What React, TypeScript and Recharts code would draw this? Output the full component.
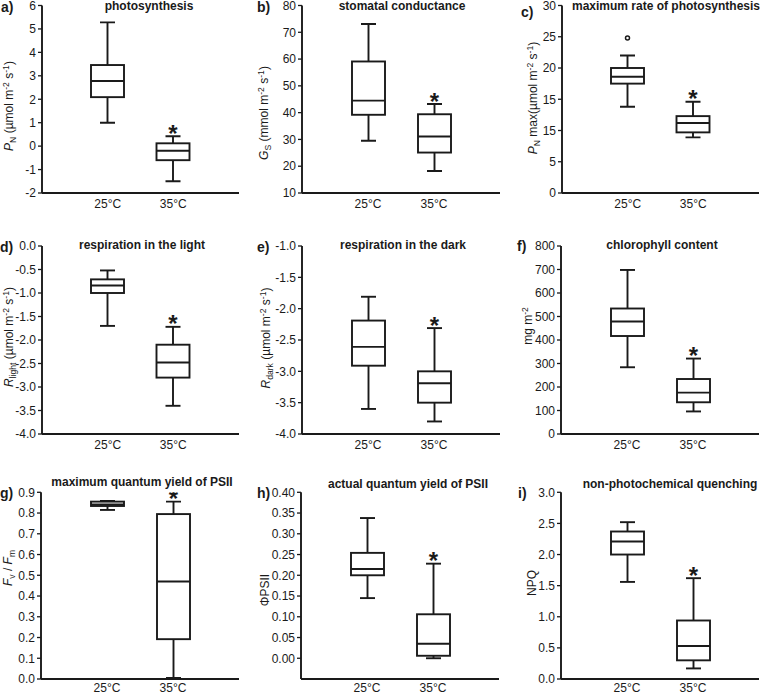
import React from "react";
import { ComposedChart, Bar, XAxis, YAxis } from "recharts";

// ---------- data ----------
const categories = ["25°C", "35°C"];
const significant = [false, true];

// each row: [min, q1, median, q3, max]
const pnStats = [[1.0, 2.09, 2.78, 3.46, 5.28], [-1.5, -0.6, -0.2, 0.12, 0.42]];
const gsStats = [[29.5, 39.2, 44.5, 59.1, 73.1], [18.2, 25.1, 31.1, 39.4, 43.2]];
const pnMaxStats = [[13.8, 17.5, 18.6, 20.0, 22.0], [8.9, 9.7, 11.2, 12.3, 14.6]];
const pnMaxOutliers = [[24.8], []];
const rLightStats = [[-1.7, -1.0, -0.84, -0.71, -0.52], [-3.4, -2.8, -2.48, -2.1, -1.72]];
const rDarkStats = [[-3.6, -2.91, -2.61, -2.19, -1.81], [-3.8, -3.5, -3.19, -3.0, -2.31]];
const chlStats = [[284, 417, 479, 534, 698], [96, 135, 176, 234, 321]];
const fvfmStats = [[0.815, 0.834, 0.842, 0.855, 0.858], [0.005, 0.192, 0.47, 0.795, 0.855]];
const phiStats = [[0.145, 0.2, 0.215, 0.254, 0.338], [0.0, 0.006, 0.035, 0.106, 0.228]];
const npqStats = [[1.56, 2.0, 2.21, 2.37, 2.52], [0.17, 0.3, 0.53, 0.94, 1.62]];

const pnTicks = [-2, -1, 0, 1, 2, 3, 4, 5, 6];
const gsTicks = [10, 20, 30, 40, 50, 60, 70, 80];
const pnMaxTicks = [0, 5, 10, 15, 20, 25, 30];
const pnMaxTickLabels = ["0", "5", "15", "15", "20", "25", "30"];
const rLightTicks = [-4, -3.5, -3, -2.5, -2, -1.5, -1, -0.5, 0];
const rDarkTicks = [-4, -3.5, -3, -2.5, -2, -1.5, -1];
const chlTicks = [0, 100, 200, 300, 400, 500, 600, 700, 800];
const fvfmTicks = [0, 0.1, 0.2, 0.3, 0.4, 0.5, 0.6, 0.7, 0.8, 0.9];
const phiTicks = [0, 0.05, 0.1, 0.15, 0.2, 0.25, 0.3, 0.35, 0.4];
const npqTicks = [0, 0.5, 1, 1.5, 2, 2.5, 3];

// ---------- style ----------
const FONT = "'Liberation Sans', Arial, Helvetica, sans-serif";
const INK = "#1a1a1a";
const LW = 1.9;
const XH = 26;

type Part = [string, "n" | "i" | "sub" | "sup"];

function makeRows(stats: number[][], outliers?: number[][]) {
  return categories.map((cat, i) => ({
    cat,
    min: stats[i][0],
    q1: stats[i][1],
    med: stats[i][2],
    q3: stats[i][3],
    max: stats[i][4],
    outliers: outliers ? outliers[i] : [],
    sig: significant[i],
  }));
}

const BoxShape = (props: any) => {
  const { x, y, width, height, payload } = props;
  if (!payload || !isFinite(y) || !isFinite(height)) return null;
  const { min, q1, med, q3, max, outliers, sig } = payload;
  const span = max - min;
  const pos = (v: number) => y + (height * (max - v)) / span;
  const cx = x + width / 2;
  const cap = 7.5;
  const yMax = pos(max);
  const yMin = pos(min);
  const yQ3 = pos(q3);
  const yQ1 = pos(q1);
  const yMed = pos(med);
  return (
    <g>
      <line x1={cx} x2={cx} y1={yMax} y2={yMin} stroke={INK} strokeWidth={LW} />
      <line x1={cx - cap} x2={cx + cap} y1={yMax} y2={yMax} stroke={INK} strokeWidth={LW} />
      <line x1={cx - cap} x2={cx + cap} y1={yMin} y2={yMin} stroke={INK} strokeWidth={LW} />
      <rect x={x} y={yQ3} width={width} height={yQ1 - yQ3} fill="#fff" stroke={INK} strokeWidth={LW} />
      <line x1={x} x2={x + width} y1={yMed} y2={yMed} stroke={INK} strokeWidth={LW} />
      {(outliers || []).map((o: number, i: number) => (
        <circle key={i} cx={cx} cy={pos(o)} r={2} fill="#fff" stroke={INK} strokeWidth={1.5} />
      ))}
      {sig && (
        <text
          x={cx}
          y={yMax + 5.5}
          textAnchor="middle"
          fontFamily={FONT}
          fontWeight="bold"
          fontSize={24}
          fill={INK}
        >
          *
        </text>
      )}
    </g>
  );
};

type PanelCfg = {
  left: number;
  top: number;
  width: number;
  height: number;
  mTop: number;
  mRight: number;
  yWidth: number;
  xMargin: number;
  rows: any[];
  ticks: number[];
  domain: [number, number];
  fmt: (v: number, i: number) => string;
};

const fmtInt = (v: number) => String(v);
const fmt1 = (v: number) => v.toFixed(1);
const fmt2 = (v: number) => v.toFixed(2);

const H1 = 193 + XH;
const H2 = 434 - 230 + XH;
const H3 = 679 - 460 + XH;

const panels: PanelCfg[] = [
  { left: 0, top: 0, width: 260, height: H1, mTop: 5.5, mRight: 21, yWidth: 42, xMargin: 2, rows: makeRows(pnStats), ticks: pnTicks, domain: [-2, 6], fmt: fmtInt },
  { left: 250, top: 0, width: 260, height: H1, mTop: 5.5, mRight: 10, yWidth: 52, xMargin: 2, rows: makeRows(gsStats), ticks: gsTicks, domain: [10, 80], fmt: fmtInt },
  { left: 500, top: 0, width: 260, height: H1, mTop: 5.5, mRight: 1, yWidth: 62, xMargin: 2, rows: makeRows(pnMaxStats, pnMaxOutliers), ticks: pnMaxTicks, domain: [0, 30], fmt: (_v, i) => pnMaxTickLabels[i] },
  { left: 0, top: 230, width: 260, height: H2, mTop: 16, mRight: 21, yWidth: 42, xMargin: 2, rows: makeRows(rLightStats), ticks: rLightTicks, domain: [-4, 0], fmt: fmt1 },
  { left: 250, top: 230, width: 260, height: H2, mTop: 16, mRight: 10, yWidth: 52, xMargin: 2, rows: makeRows(rDarkStats), ticks: rDarkTicks, domain: [-4, -1], fmt: fmt1 },
  { left: 500, top: 230, width: 260, height: H2, mTop: 16, mRight: 1, yWidth: 61, xMargin: 2, rows: makeRows(chlStats), ticks: chlTicks, domain: [0, 800], fmt: fmtInt },
  { left: 0, top: 460, width: 260, height: H3, mTop: 32.3, mRight: 21, yWidth: 41, xMargin: 0, rows: makeRows(fvfmStats), ticks: fvfmTicks, domain: [0, 0.9], fmt: fmt1 },
  { left: 250, top: 460, width: 260, height: H3, mTop: 32.3, mRight: 11, yWidth: 51, xMargin: 0, rows: makeRows(phiStats), ticks: phiTicks, domain: [-0.05, 0.4], fmt: fmt2 },
  { left: 500, top: 460, width: 260, height: H3, mTop: 32.3, mRight: 1, yWidth: 61, xMargin: 0, rows: makeRows(npqStats), ticks: npqTicks, domain: [0, 3], fmt: fmt1 },
];

const letters: [string, number, number][] = [
  ["a)", 1, 12], ["b)", 257, 12], ["c)", 521, 17],
  ["d)", 0, 252], ["e)", 257, 252], ["f)", 517, 251],
  ["g)", 0, 498], ["h)", 257, 498], ["i)", 518, 498],
];

const titles: [string, number, number][] = [
  ["photosynthesis", 149, 10], ["stomatal conductance", 402, 10], ["maximum rate of photosynthesis", 666, 10],
  ["respiration in the light", 142, 249], ["respiration in the dark", 403, 249], ["chlorophyll content", 662, 249],
  ["maximum quantum yield of PSII", 142, 486], ["actual quantum yield of PSII", 408, 488], ["non-photochemical quenching", 670, 488],
];

const unitParts: Part[] = [[" (µmol m", "n"], ["-2", "sup"], [" s", "n"], ["-1", "sup"], [")", "n"]];

const yLabels: [Part[], number, number][] = [
  [[["P", "i"], ["N", "sub"], ...unitParts], 9, 106],
  [[["G", "i"], ["S", "sub"], [" (mmol m", "n"], ["-2", "sup"], [" s", "n"], ["-1", "sup"], [")", "n"]], 264, 113],
  [[["P", "i"], ["N", "sub"], [" max", "n"], ["(µmol m", "n"], ["-2", "sup"], [" s", "n"], ["-1", "sup"], [")", "n"]], 533, 98],
  [[["R", "i"], ["light", "sub"], ...unitParts], 9, 337],
  [[["R", "i"], ["dark", "sub"], ...unitParts], 266, 338],
  [[["mg m", "n"], ["-2", "sup"]], 528, 326],
  [[["F", "i"], ["v", "sub"], [" / ", "n"], ["F", "i"], ["m", "sub"]], 7.5, 568],
  [[["ΦPSII", "n"]], 265, 590],
  [[["NPQ", "n"]], 532, 583],
];

function RichParts({ parts, size }: { parts: Part[]; size: number }) {
  let shift = 0;
  return (
    <>
      {parts.map(([t, k], i) => {
        const target = k === "sub" ? 3 : k === "sup" ? -4.5 : 0;
        const dy = target - shift;
        shift = target;
        const small = k === "sub" || k === "sup";
        return (
          <tspan key={i} dy={dy} fontSize={small ? size * 0.72 : size} fontStyle={k === "i" ? "italic" : "normal"}>
            {t}
          </tspan>
        );
      })}
    </>
  );
}

function Panel({ cfg }: { cfg: PanelCfg }) {
  return (
    <div style={{ position: "absolute", left: cfg.left, top: cfg.top, width: cfg.width, height: cfg.height }}>
      <ComposedChart
        width={cfg.width}
        height={cfg.height}
        data={cfg.rows}
        margin={{ top: cfg.mTop, right: cfg.mRight, left: 0, bottom: 0 }}
      >
        <XAxis
          dataKey="cat"
          type="category"
          padding={{ left: 33, right: 33 }}
          height={XH}
          axisLine={{ stroke: INK, strokeWidth: LW }}
          tickLine={false}
          tickSize={4}
          tickMargin={cfg.xMargin}
          tick={{ fontSize: 12, fill: INK, fontFamily: FONT }}
          interval={0}
        />
        <YAxis
          type="number"
          width={cfg.yWidth}
          domain={cfg.domain}
          ticks={cfg.ticks}
          interval={0}
          allowDataOverflow
          tickFormatter={cfg.fmt}
          axisLine={{ stroke: INK, strokeWidth: LW }}
          tickLine={{ stroke: INK, strokeWidth: 1.3 }}
          tickSize={4}
          tickMargin={2}
          tick={{ fontSize: 12, fill: INK, fontFamily: FONT }}
        />
        <Bar
          dataKey={(d: any) => [d.min, d.max]}
          barSize={33}
          shape={BoxShape}
          isAnimationActive={false}
        />
      </ComposedChart>
    </div>
  );
}

export default function App() {
  return (
    <div style={{ position: "absolute", left: 0, top: 0, width: 760, height: 695, background: "#fff", fontFamily: FONT, overflow: "hidden" }}>
      {panels.map((p, i) => (
        <Panel key={i} cfg={p} />
      ))}
      <svg
        width={760}
        height={695}
        style={{ position: "absolute", left: 0, top: 0, pointerEvents: "none", overflow: "visible" }}
      >
        {letters.map(([t, x, y], i) => (
          <text key={"l" + i} x={x} y={y} fontFamily={FONT} fontWeight="bold" fontSize={14} fill={INK}>
            {t}
          </text>
        ))}
        {titles.map(([t, x, y], i) => (
          <text key={"t" + i} x={x} y={y} textAnchor="middle" fontFamily={FONT} fontWeight="bold" fontSize={12} fill={INK}>
            {t}
          </text>
        ))}
        {yLabels.map(([parts, x, y], i) => (
          <text
            key={"y" + i}
            transform={`translate(${x},${y}) rotate(-90)`}
            x={0}
            y={4}
            textAnchor="middle"
            fontFamily={FONT}
            fontSize={12}
            fill={INK}
            style={{ whiteSpace: "pre" }}
          >
            <RichParts parts={parts} size={12} />
          </text>
        ))}
      </svg>
    </div>
  );
}
